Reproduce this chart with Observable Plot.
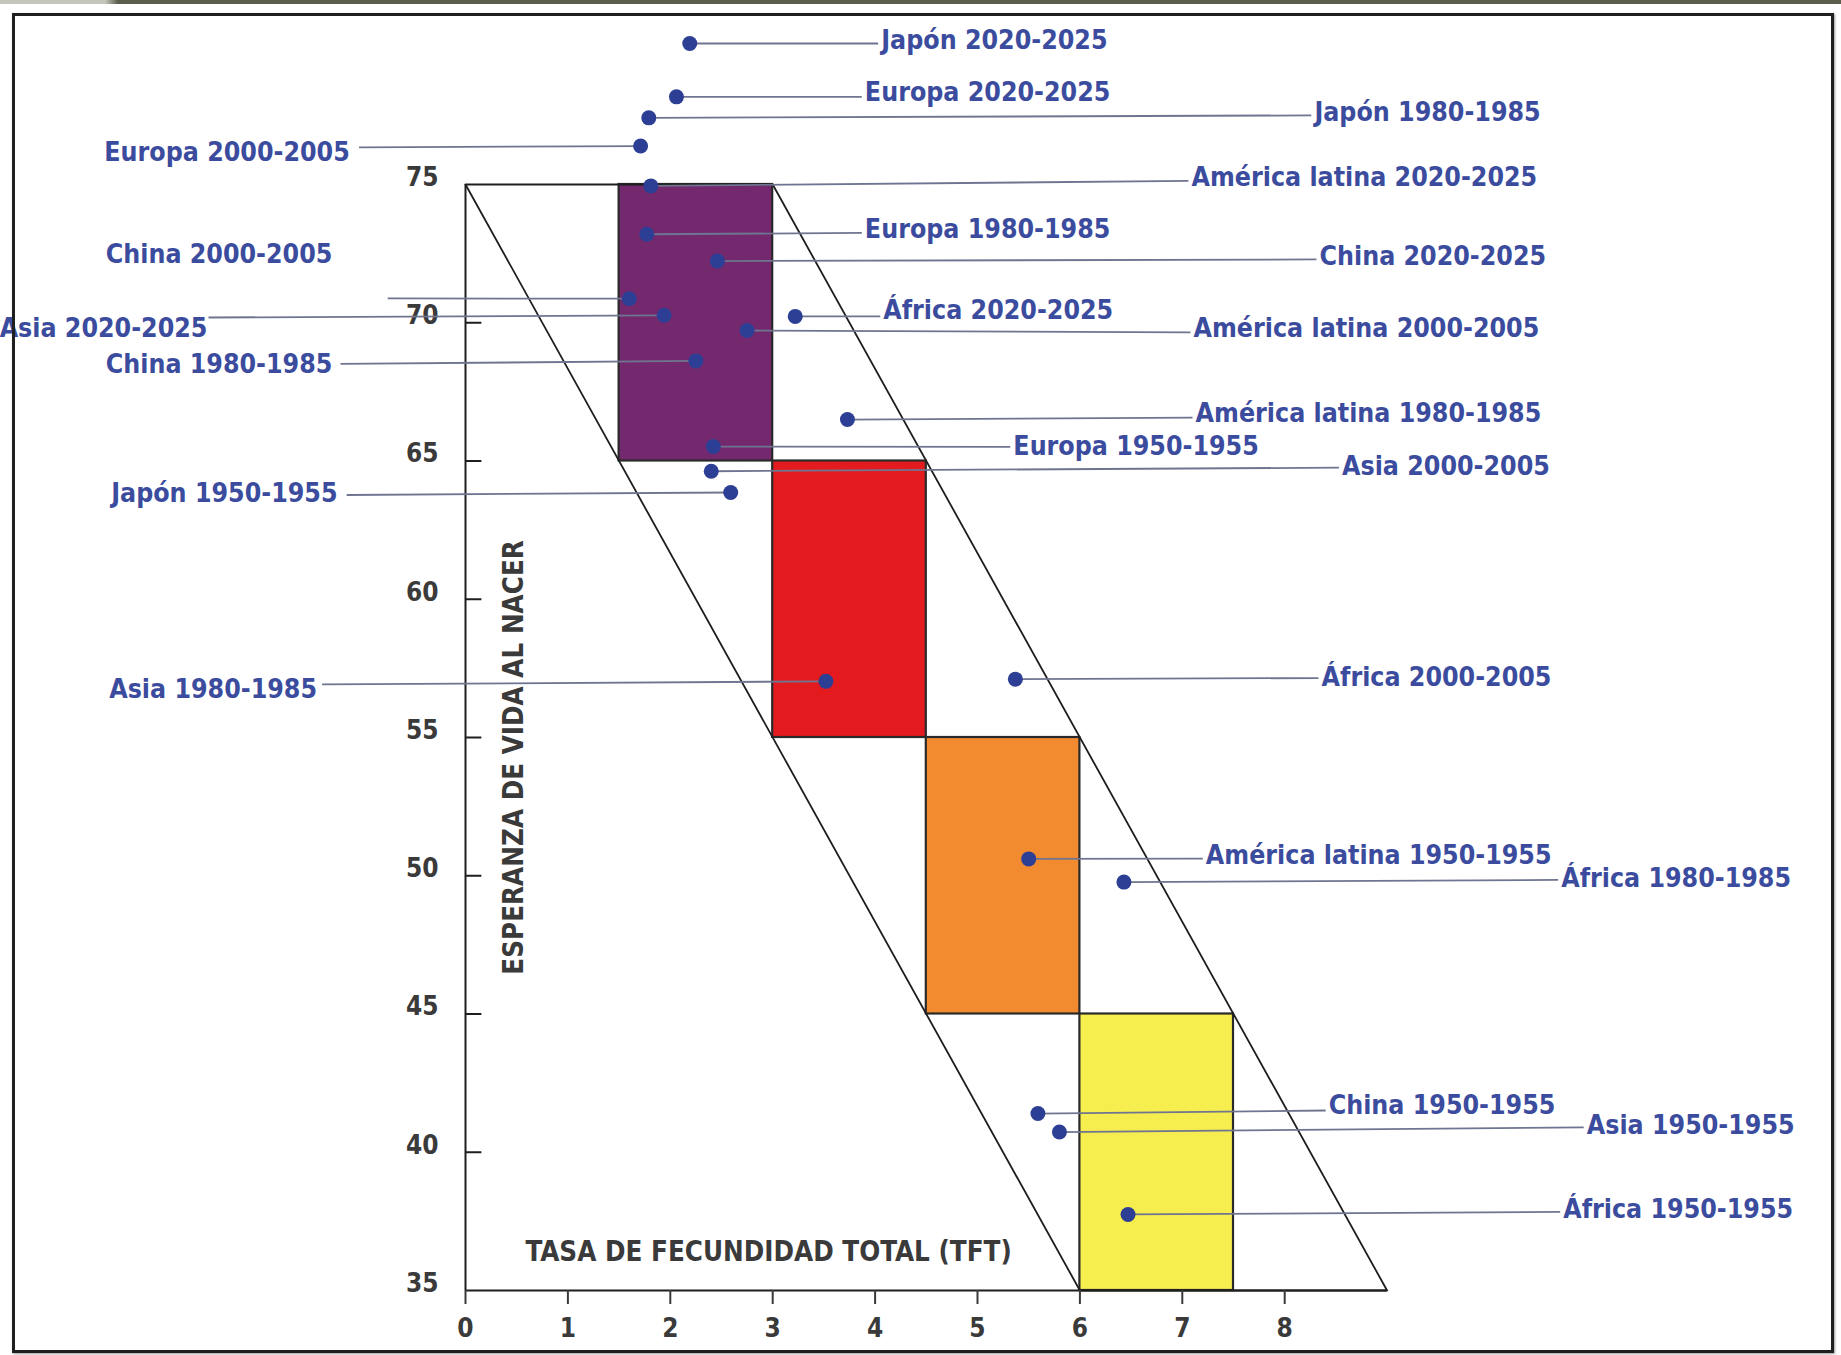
<!DOCTYPE html>
<html>
<head>
<meta charset="utf-8">
<script src="https://cdn.jsdelivr.net/npm/d3@7"></script>
<script src="https://cdn.jsdelivr.net/npm/@observablehq/plot@0.6"></script>
<style>
  html, body { margin: 0; padding: 0; background: #ffffff; }
  #wrap { position: relative; width: 1841px; height: 1355px; overflow: hidden; background: #fff; }
  #band { position: absolute; left: 0; top: 0; width: 1841px; height: 4px;
          background: linear-gradient(to right, #c4c6bb 0px, #c4c6bb 105px, #5b5e4d 118px, #5b5e4d 100%); }
  #frame { position: absolute; left: 12px; top: 13px; width: 1822px; height: 1340px; box-sizing: border-box;
           border: 3px solid #1f1f1f; pointer-events: none; box-shadow: 1px 1px 2px #999; }
  #chart svg { display: block; }
  #chart svg text { font-stretch: condensed; }
</style>
</head>
<body>
<div id="wrap">
  <div id="band"></div>
  <div id="chart"></div>
  <div id="frame"></div>
</div>
<script>
// ---- Data ----
const labels = [
  "Japón 2020-2025", "Europa 2020-2025", "Japón 1980-1985", "América latina 2020-2025",
  "Europa 1980-1985", "China 2020-2025", "África 2020-2025", "América latina 2000-2005",
  "América latina 1980-1985", "Europa 1950-1955", "Asia 2000-2005", "África 2000-2005",
  "América latina 1950-1955", "África 1980-1985", "China 1950-1955", "Asia 1950-1955",
  "África 1950-1955",
  "Europa 2000-2005", "China 2000-2005", "Asia 2020-2025", "China 1980-1985",
  "Japón 1950-1955", "Asia 1980-1985"
];
// Tasa de fecundidad total (x)
const tft = [
  2.19, 2.06, 1.79, 1.81,
  1.77, 2.46, 3.22, 2.75,
  3.73, 2.42, 2.40, 5.37,
  5.50, 6.43, 5.59, 5.80,
  6.47,
  1.71, 1.60, 1.94, 2.25,
  2.59, 3.52
];
// Esperanza de vida al nacer (y)
const esperanza = [
  80.10, 78.17, 77.41, 74.95,
  73.20, 72.23, 70.23, 69.72,
  66.50, 65.52, 64.63, 57.11,
  50.61, 49.77, 41.40, 40.73,
  37.75,
  76.39, 70.87, 70.27, 68.62,
  63.86, 57.03
];
// Label anchor (text) positions, in chart units
const labelX = [
  4.06, 3.90, 8.29, 7.09,
  3.90, 8.34, 4.08, 7.11,
  7.13, 5.35, 8.56, 8.36,
  7.23, 10.70, 8.43, 10.95,
  10.72,
  -1.13, -1.30, -2.52, -1.30,
  -1.25, -1.45
];
const labelY = [
  80.21, 78.31, 77.59, 75.26,
  73.39, 72.39, 70.44, 69.80,
  66.70, 65.54, 64.80, 57.18,
  50.73, 49.89, 41.69, 40.96,
  37.93,
  76.17, 72.46, 69.78, 68.49,
  63.84, 56.72
];
// Leader-line far ends, in chart units
const lineX = [
  4.03, 3.87, 8.26, 7.06,
  3.87, 8.31, 4.05, 7.08,
  7.10, 5.32, 8.53, 8.33,
  7.20, 10.67, 8.40, 10.92,
  10.69,
  -1.04, -0.76, -2.51, -1.22,
  -1.16, -1.40
];
const lineY = [
  80.10, 78.17, 77.50, 75.13,
  73.25, 72.29, 70.23, 69.65,
  66.57, 65.51, 64.76, 57.15,
  50.62, 49.85, 41.51, 40.90,
  37.84,
  76.34, 70.88, 70.19, 68.51,
  63.77, 56.92
];

// Transition zones (coloured boxes)
const zoneX1 = [1.5, 3.0, 4.5, 6.0];
const zoneX2 = [3.0, 4.5, 6.0, 7.5];
const zoneY1 = [65, 55, 45, 35];
const zoneY2 = [75, 65, 55, 45];
const zoneColors = ["#74296f", "#e31b1f", "#f28a30", "#f6ee4e"];

// Parallelogram band
const bandX = [0, 3, 9, 6, 0];
const bandY = [75, 75, 35, 35, 75];

// Ticks
const xTicks = [0, 1, 2, 3, 4, 5, 6, 7, 8];
const yTicks = [35, 40, 45, 50, 55, 60, 65, 70, 75];
const yTickMarks = [40, 45, 50, 55, 60, 65, 70];

const xTitle = ["TASA DE FECUNDIDAD TOTAL (TFT)"];
const yTitle = ["ESPERANZA DE VIDA AL NACER"];

// ---- Build ----
const points = labels.map((name, i) => ({
  name, x: tft[i], y: esperanza[i], lx: labelX[i], ly: labelY[i], ex: lineX[i], ey: lineY[i]
}));
const zones = zoneX1.map((x1, i) => ({x1, x2: zoneX2[i], y1: zoneY1[i], y2: zoneY2[i], fill: zoneColors[i]}));
const band = bandX.map((x, i) => ({x, y: bandY[i]}));

const FONT = '"DejaVu Sans Condensed", "DejaVu Sans", sans-serif';
const axisColor = "#3a3a3a";
const labelColor = "#3b4c9e";

const chart = Plot.plot({
  width: 1841,
  height: 1355,
  marginLeft: 465,
  marginRight: 454.4,
  marginTop: 184,
  marginBottom: 65,
  x: {domain: [0, 9]},
  y: {domain: [35, 75]},
  style: {fontFamily: FONT, background: "transparent", overflow: "visible"},
  marks: [
    Plot.rect(zones, {x1: "x1", x2: "x2", y1: "y1", y2: "y2", fill: "fill", stroke: "#2a2a2a", strokeWidth: 2.2}),
    Plot.line(band, {x: "x", y: "y", stroke: "#1e1e1e", strokeWidth: 1.8}),
    Plot.ruleX([0], {y1: 35, y2: 75, stroke: "#1e1e1e", strokeWidth: 2}),
    Plot.ruleY([35], {x1: 0, x2: 9, stroke: "#1e1e1e", strokeWidth: 2}),
    Plot.ruleY(yTickMarks, {x1: 0, x2: 0.16, stroke: "#1e1e1e", strokeWidth: 2}),
    Plot.axisX(xTicks, {tickSize: 14, tickPadding: 14, fontSize: 26, fontWeight: "bold", color: axisColor, label: null, strokeWidth: 2}),
    Plot.axisY(yTicks, {tickSize: 0, tickPadding: 27, dy: -7, fontSize: 26, fontWeight: "bold", color: axisColor, label: null}),
    Plot.text(xTitle, {x: 2.96, y: 36.37, text: d => d, fontSize: 27.5, fontWeight: "bold", fill: axisColor}),
    Plot.text(yTitle, {x: 0.48, y: 54.28, text: d => d, rotate: -90, fontSize: 27.5, fontWeight: "bold", fill: axisColor}),
    Plot.link(points, {x1: "x", y1: "y", x2: "ex", y2: "ey", stroke: "#6f7590", strokeWidth: 1.8}),
    Plot.dot(points, {x: "x", y: "y", r: 7.5, fill: "#2d3f94", stroke: "none"}),
    Plot.text(points.filter(d => d.lx >= 0), {x: "lx", y: "ly", text: "name", textAnchor: "start", fontSize: 26.5, fontWeight: "bold", fill: labelColor}),
    Plot.text(points.filter(d => d.lx < 0), {x: "lx", y: "ly", text: "name", textAnchor: "end", fontSize: 26.5, fontWeight: "bold", fill: labelColor})
  ]
});
document.getElementById("chart").appendChild(chart);
</script>
</body>
</html>
